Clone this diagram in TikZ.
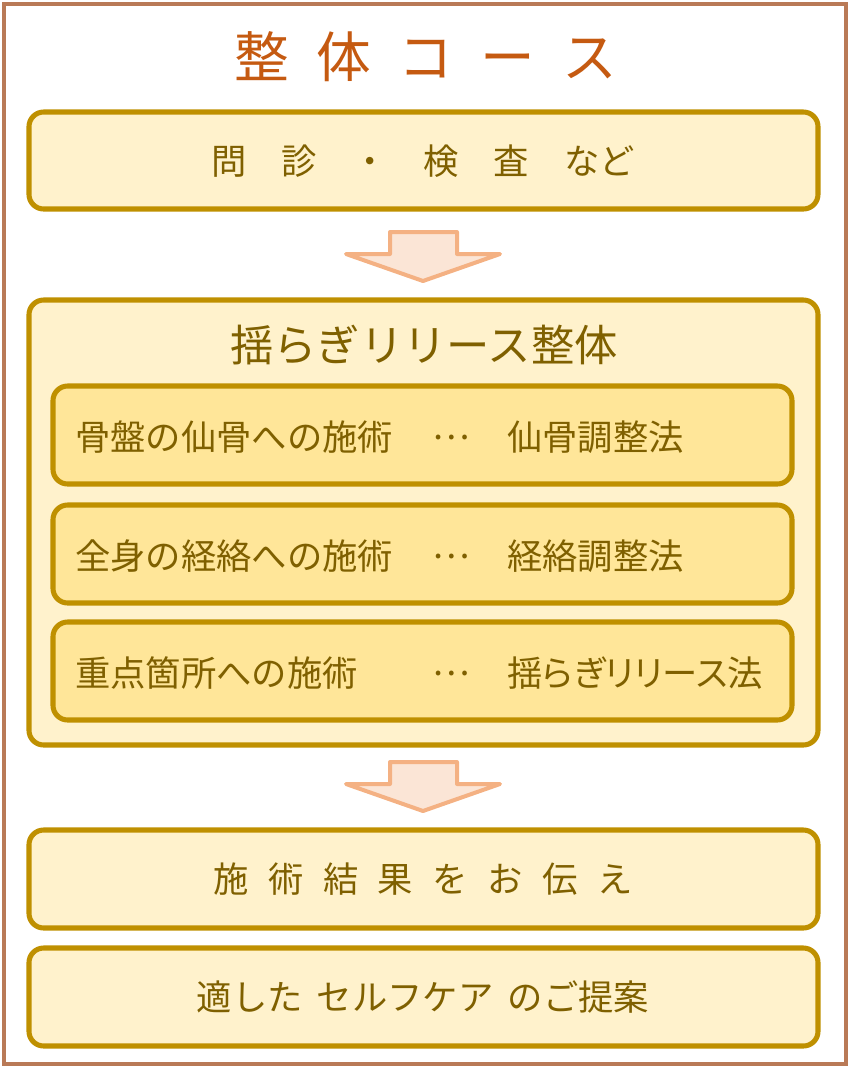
\documentclass[tikz,border=0pt]{standalone}
\usepackage{fontspec}
\setmainfont{Noto Sans CJK JP}
\newfontfamily\proportional[RawFeature=+palt]{Noto Sans CJK JP}
\definecolor{frame}{HTML}{B97A57}
\definecolor{gold}{HTML}{BF9000}
\definecolor{lightfill}{HTML}{FFF2CC}
\definecolor{innerfill}{HTML}{FFE699}
\definecolor{txt}{HTML}{7F6000}
\definecolor{ttl}{HTML}{C55A11}
\definecolor{arrfill}{HTML}{FBE5D6}
\definecolor{arrline}{HTML}{F4B183}
\tikzset{
  px/.style={x=0.75pt,y=-0.75pt},
  outerbox/.style={draw=gold,line width=3.8pt,fill=lightfill,rounded corners=11pt},
  innerbox/.style={draw=gold,line width=3.8pt,fill=innerfill,rounded corners=11pt},
  bodytext/.style={text=txt,font=\fontsize{26.5pt}{30pt}\selectfont,inner sep=0pt},
  downarrow/.style={draw=arrline,fill=arrfill,line width=3pt,line join=round},
}
\begin{document}
\begin{tikzpicture}[px]
\useasboundingbox (0,0) rectangle (850,1068);
\draw[frame,line width=3pt] (4,4) rectangle (846,1064);
% title
\node[text=ttl,font=\fontsize{41pt}{46pt}\selectfont,inner sep=0pt] (title) at (426,57)
  {整\hspace{0.5em}体\hspace{0.5em}コ\hspace{0.5em}ー\hspace{0.5em}ス};
% box 1
\draw[outerbox] (29,112) rectangle (818,209);
\node[bodytext] (b1) at (423,161) {問　診　・　検　査　など};
% arrow 1
\draw[downarrow] (390,232) -- (457,232) -- (457,254) -- (500,254) -- (423,281) -- (346,254) -- (390,254) -- cycle;
% big box
\draw[outerbox] (29,300) rectangle (818,745);
\node[text=txt,font=\fontsize{32.5pt}{36pt}\selectfont,inner sep=0pt] (b2) at (424,345) {揺らぎリリース整体};
% inner rows
\draw[innerbox] (53,386) rectangle (792,484);
\draw[innerbox] (53,505) rectangle (792,603);
\draw[innerbox] (53,622) rectangle (792,720);
\node[bodytext,anchor=west] (r1a) at (75,437) {骨盤の仙骨への施術};
\node[bodytext] (r1b) at (451,437) {…};
\node[bodytext,anchor=west] (r1c) at (507,437) {仙骨調整法};
\node[bodytext,anchor=west] (r2a) at (75,556) {全身の経絡への施術};
\node[bodytext] (r2b) at (451,556) {…};
\node[bodytext,anchor=west] (r2c) at (507,556) {経絡調整法};
\node[bodytext,anchor=west] (r3a) at (75,673) {重点箇所への施術};
\node[bodytext] (r3b) at (451,673) {…};
\node[bodytext,anchor=west] (r3c) at (507,673) {\proportional 揺らぎリリース法};
% arrow 2
\draw[downarrow] (390,762) -- (457,762) -- (457,784) -- (500,784) -- (423,811) -- (346,784) -- (390,784) -- cycle;
% box 3
\draw[outerbox] (29,830) rectangle (818,928);
\node[bodytext] (b3) at (423,879) {施\hspace{0.55em}術\hspace{0.55em}結\hspace{0.55em}果\hspace{0.55em}を\hspace{0.55em}お\hspace{0.55em}伝\hspace{0.55em}え};
% box 4
\draw[outerbox] (29,948) rectangle (818,1046);
\node[bodytext] (b4) at (423,997) {適した\hspace{0.4em}セルフケア\hspace{0.4em}のご提案};
\end{tikzpicture}
\end{document}
